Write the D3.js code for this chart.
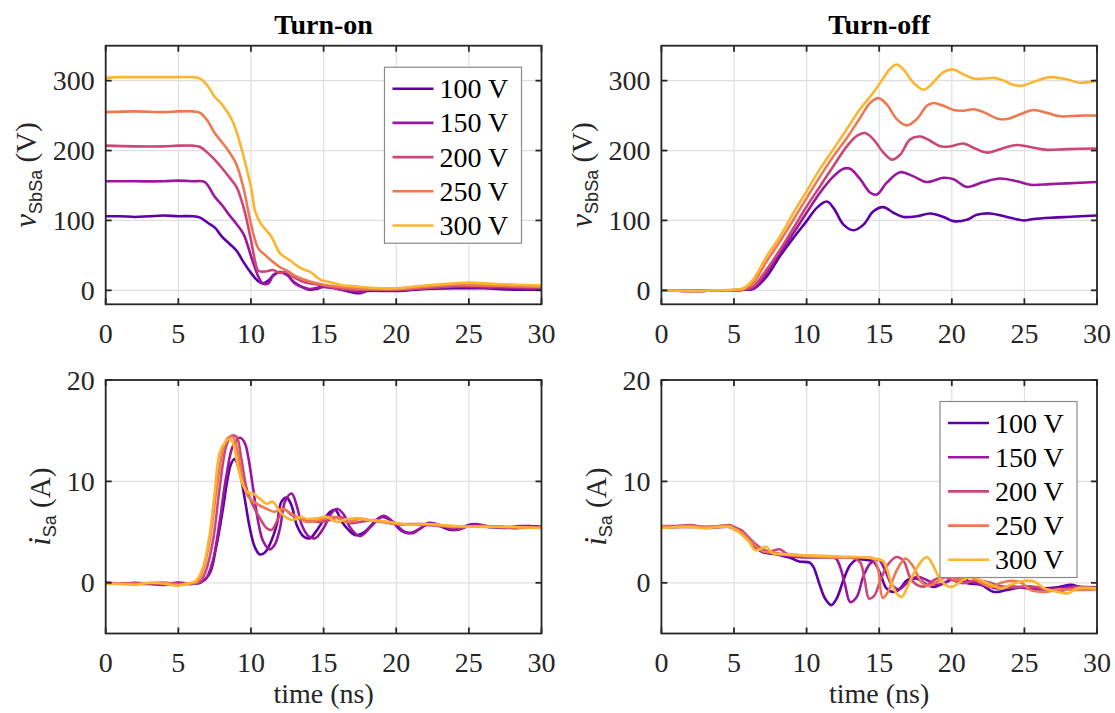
<!DOCTYPE html>
<html><head><meta charset="utf-8">
<script src="https://cdn.jsdelivr.net/npm/d3@7"></script>
<style>body{margin:0;background:#fff}svg{display:block}</style>
</head><body>
<script>
// ---------- data ----------
const seriesNames = ["100 V","150 V","200 V","250 V","300 V"];
const seriesColors = ["#5d01a6","#9c179e","#cc4778","#ed7953","#fdb42f"];
const timeTicks = [0,5,10,15,20,25,30];
const voltTicks = [0,100,200,300];
const currTicks = [0,10,20];

// Turn-on voltage v_SbSa (V), [time ns, value]
const onV100 = [[0,106],[1,106],[2,105],[3,106],[4,107],[5,106],[6,106],[6.5,104],[7,97],[7.5,90],[8,77],[8.5,67],[9,57],[9.5,40],[10,25],[10.5,13],[10.8,10],[11.2,14],[11.6,23],[12,26],[12.5,22],[13,11],[13.5,5],[14,1],[14.5,2],[15,5],[16,2],[17,-3],[17.5,-4],[18,-1],[20,-1],[22,2],[24,3],[26,3],[28,1],[30,1]];
const onV150 = [[0,156],[2,156],[4,156],[5,157],[6,156],[6.8,155],[7.5,134],[8,122],[8.5,108],[9,95],[9.5,80],[10,49],[10.5,20],[10.8,10],[11.2,10],[11.5,20],[12,26],[12.5,22],[13,10],[13.5,5],[14,2],[15,5],[16,2],[17,-1],[17.5,-3],[18,0],[20,0],[22,3],[24,5],[26,4],[28,3],[30,2]];
const onV200 = [[0,207],[2,206],[4,206],[5,207],[6,207],[6.5,205],[7,197],[7.5,187],[8,175],[8.5,162],[9,148],[9.5,118],[10,72],[10.3,40],[10.5,28],[11,27],[11.5,29],[12,25],[12.5,27],[13,18],[13.5,13],[14,10],[15,7],[16,3],[17,1],[18,1],[20,1],[22,3],[24,6],[26,6],[28,5],[30,4]];
const onV250 = [[0,255],[2,256],[4,255],[5,256],[6,256],[6.5,254],[7,243],[7.5,225],[8,212],[8.5,198],[9,180],[9.5,145],[10,95],[10.5,60],[11,50],[11.5,41],[12,33],[12.5,28],[13,21],[14,13],[15,8],[16,5],[17,3],[18,2],[20,2],[22,5],[24,8],[26,7],[28,6],[30,5]];
const onV300 = [[0,304],[1,305],[2,305],[3,305],[4,305],[5,305],[6,305],[6.5,303],[7,293],[7.5,277],[8,266],[8.69,244],[9.18,215],[9.67,177],[10.04,144],[10.29,113],[10.66,96],[11.4,77],[12,53],[12.6,44],[13.4,32],[14.1,26],[14.8,15],[15.6,11],[16.3,7],[17,6],[18,4],[19,3],[20,3],[22,7],[24,10],[25,11],[27,9],[30,7]];

// Turn-off voltage v_SbSa (V)
const offV100 = [[0,0],[2,-1],[4,0],[5,0],[5.65,1],[6.34,2],[7.26,20],[8.17,49],[9.09,75],[10,99],[10.7,118],[11.39,127],[11.85,118],[12.54,94],[13.23,86],[13.92,94],[14.6,113],[15.29,119],[15.98,111],[16.67,105],[17.59,106],[18.51,110],[19.43,105],[20.12,99],[21.03,101],[21.72,108],[22.64,110],[23.79,105],[24.94,100],[25.63,102],[27,104],[27.92,105],[30,107]];
const offV150 = [[0,0],[2,-1],[4,0],[5,0],[5.65,1],[6.34,3],[7.26,25],[8.17,54],[9.09,82],[10,111],[10.93,140],[11.85,163],[12.54,174],[13,174],[13.69,159],[14.37,140],[14.83,137],[15.52,154],[16.44,169],[17.36,163],[18.28,155],[19.43,161],[20.12,159],[21.03,148],[22.18,155],[23.33,160],[24.48,156],[25.4,151],[26.77,152],[27.92,153],[30,155]];
const offV200 = [[0,0],[2,-1],[4,0],[5,0],[5.65,1],[6.34,6],[7.26,30],[8.17,58],[9.09,89],[10,120],[10.93,149],[11.85,178],[12.77,206],[13.46,221],[14.03,225],[14.6,216],[15.29,197],[15.87,187],[16.44,194],[17.13,216],[17.82,220],[18.51,214],[19.2,206],[19.89,206],[20.8,210],[21.49,204],[22.41,197],[23.33,202],[24.48,208],[25.63,204],[26.54,201],[27.92,202],[30,203]];
const offV250 = [[0,0],[2,-1],[4,0],[5,0.5],[5.65,2],[6.34,11],[7.26,42],[8.17,70],[9.09,101],[10,132],[10.93,163],[11.85,192],[12.77,218],[13.69,247],[14.37,268],[14.95,275],[15.52,266],[16.21,245],[16.9,236],[17.59,245],[18.28,264],[18.74,268],[19.43,264],[20.12,258],[20.8,257],[21.49,259],[22.18,255],[23.1,246],[23.79,245],[24.71,252],[25.63,258],[26.54,254],[27.46,249],[28.84,250],[30,250]];
const offV300 = [[0,0],[2,-1],[4,0],[5,1],[5.65,3],[6.3,15],[7.26,49],[8.17,77],[9.1,111],[10,142],[10.9,173],[11.85,202],[12.75,230],[13.6,257],[14.6,283],[15.3,304],[15.75,317],[16.2,323],[16.67,316],[17.36,297],[18.05,287],[18.7,297],[19.4,312],[20.1,316],[20.8,309],[21.5,303],[22.2,303],[22.9,304],[23.6,300],[24.2,294],[24.9,293],[25.6,298],[26.8,305],[27.9,302],[28.8,297],[30,300]];

// Turn-on current i_Sa (A)
const onI100 = [[0,0],[2,-0.1],[4,-0.1],[5,0],[6,-0.1],[6.5,0],[7.15,0.9],[7.6,3.5],[8.07,7.3],[8.42,10.5],[8.65,11.8],[8.88,12.2],[9.23,10.9],[9.57,8.3],[9.92,5.4],[10.27,3.5],[10.6,2.8],[10.96,3.0],[11.3,3.8],[11.77,5.7],[12.1,8.0],[12.46,8.4],[12.8,7.6],[13.15,5.7],[13.6,4.6],[14.07,4.4],[14.5,5.1],[15,6.2],[15.46,7.0],[15.8,7.2],[16.27,6.0],[16.73,5.2],[17.2,4.7],[17.8,5.0],[18.5,6.0],[19,6.5],[19.6,6.2],[20.3,5.2],[20.9,4.9],[21.6,5.3],[22.2,5.9],[23,5.6],[23.8,5.2],[24.6,5.5],[25.3,5.8],[26.3,5.5],[27.3,5.5],[28.3,5.4],[29,5.6],[30,5.5]];
const onI150 = [[0,0],[1,-0.1],[2,0],[3,-0.1],[4,-0.2],[5,0],[6,-0.1],[6.45,0.1],[6.9,0.4],[7.38,2.2],[7.84,6.0],[8.3,10.5],[8.76,13.5],[9.23,14.3],[9.57,13.8],[9.8,12.5],[10.15,9.3],[10.5,6.0],[10.84,4.1],[11.3,3.3],[11.65,3.8],[12,5.4],[12.34,8.0],[12.8,8.8],[13.15,7.6],[13.5,5.7],[13.96,4.6],[14.42,4.4],[15,5.4],[15.46,6.7],[15.92,7.3],[16.4,6.7],[16.85,5.4],[17.5,4.6],[18.3,5.6],[19.1,6.6],[19.8,6.0],[20.5,5.1],[21.1,4.9],[21.8,5.5],[22.4,5.9],[23.2,5.6],[24.1,5.2],[24.8,5.5],[25.5,5.8],[26.5,5.5],[27.5,5.4],[28.5,5.6],[30,5.5]];
const onI200 = [[0,0],[2,-0.1],[4,0],[5,-0.1],[6,-0.1],[6.5,0.1],[6.9,1.2],[7.38,4.1],[7.84,9.3],[8.3,13.5],[8.65,14.5],[9,14.4],[9.34,12.2],[9.7,9.3],[10.15,7.6],[10.6,6.4],[11.07,5.4],[11.4,5.2],[11.77,6.0],[12.23,7.3],[12.7,6.8],[13.15,6.4],[13.85,6.2],[14.77,6.0],[15.46,6.2],[16.15,6.5],[16.85,5.9],[17.5,6.0],[18.5,6.2],[20,5.8],[22,5.7],[24,5.5],[26,5.6],[28,5.4],[30,5.5]];
const onI250 = [[0,-0.1],[2,-0.1],[4,0],[5,-0.2],[6,0],[6.3,0.1],[6.69,1.2],[7.15,4.1],[7.6,8.9],[8.07,13.1],[8.42,14.3],[8.76,14.4],[9.1,12.8],[9.46,9.9],[9.8,8.5],[10.38,7.8],[11.07,7.3],[11.65,7.0],[12.1,7.3],[12.57,7.0],[13.15,6.5],[13.85,6.0],[14.77,6.2],[15.7,6.5],[16.6,6.0],[17.5,6.3],[18.5,6.1],[20,5.8],[22,5.8],[24,5.5],[26,5.6],[28,5.5],[30,5.4]];
const onI300 = [[0,-0.1],[1,-0.1],[2,-0.2],[3,0],[4,-0.1],[5,-0.3],[5.5,-0.1],[5.9,0],[6.22,0.2],[6.69,1.5],[7.15,4.7],[7.5,8.9],[7.84,12.8],[8.19,13.8],[8.53,14.2],[8.76,13.8],[9.1,11.5],[9.46,9.6],[9.8,8.9],[10.15,8.8],[10.6,8.3],[11.07,7.8],[11.5,8.0],[12,7.0],[12.46,6.4],[12.9,6.2],[13.4,6.5],[13.85,6.3],[14.5,6.35],[15.2,6.5],[15.9,6.0],[16.6,6.3],[17.5,6.35],[18,6.2],[19,6.1],[20,5.9],[21,5.7],[22,5.8],[24,5.6],[26,5.5],[28,5.5],[30,5.4]];

// Turn-off current i_Sa (A)
const offI100 = [[0,5.5],[1,5.5],[2,5.5],[3,5.5],[4,5.5],[4.7,5.5],[5,5.3],[5.5,4.9],[6,4.2],[6.5,3.5],[7,3.0],[7.5,2.9],[8,2.8],[8.5,2.6],[9,2.4],[9.5,2.1],[10.2,2.0],[10.46,1.6],[10.9,-0.2],[11.27,-1.55],[11.7,-2.2],[12.07,-1.55],[12.53,0.25],[13,1.75],[13.45,2.3],[14.15,2.25],[14.6,2.1],[15.07,0.9],[15.5,-0.55],[15.99,-0.9],[16.45,-0.55],[16.9,0.25],[17.6,0.4],[18.3,-0.2],[18.75,-0.4],[19.45,-0.05],[20.1,0.45],[21.1,-0.05],[22,-0.2],[22.9,-0.9],[23.8,-0.7],[25,-0.4],[26.1,-0.55],[27.3,-0.45],[28.2,-0.2],[28.9,-0.45],[30,-0.45]];
const offI150 = [[0,5.5],[1,5.5],[2,5.6],[3,5.4],[4,5.5],[4.7,5.6],[5,5.4],[5.5,5.0],[6,4.3],[6.5,3.5],[7,3.1],[7.5,2.9],[8,2.8],[9,2.6],[10,2.5],[11,2.5],[12,2.4],[12.3,1.6],[12.65,-0.2],[13,-1.9],[13.45,-1.4],[13.9,0.6],[14.38,1.9],[14.95,2.3],[15.4,1.25],[15.88,-0.2],[16.34,-0.65],[16.9,-0.05],[17.6,0.6],[18.3,0.25],[19,-0.2],[19.7,0.1],[20.4,0.6],[21.3,0.1],[22.2,-0.2],[23.1,-0.55],[24.05,-0.35],[25.2,-0.55],[26.1,-0.65],[27.5,-0.55],[28.4,-0.4],[30,-0.45]];
const offI200 = [[0,5.6],[1,5.6],[2,5.7],[3,5.5],[4,5.6],[4.7,5.7],[5,5.5],[5.5,5.2],[6,4.5],[6.5,3.8],[7,3.3],[7.5,3.1],[8.15,3.3],[8.6,2.9],[9.5,2.7],[10.5,2.6],[12,2.5],[13.3,2.4],[13.7,2.0],[14.0,0.3],[14.3,-1.55],[14.65,-1.3],[15.1,0.3],[15.6,1.8],[16.2,2.55],[16.7,2.1],[17.1,0.6],[17.6,-0.2],[18.2,-0.35],[18.75,0.25],[19.45,0.6],[20.1,0.25],[20.8,-0.05],[21.5,0.2],[22.4,0.1],[23.4,-0.35],[24.3,-0.45],[25.4,-0.35],[26.6,-0.65],[27.5,-0.8],[28.4,-0.45],[30,-0.55]];
const offI250 = [[0,5.6],[1,5.5],[2,5.6],[3,5.5],[4,5.6],[4.7,5.6],[5,5.4],[5.5,5.0],[6,4.3],[6.5,3.6],[7,3.1],[7.5,3.0],[8,2.9],[9,2.7],[10,2.6],[12,2.5],[14,2.5],[14.6,2.4],[14.9,1.5],[15.25,-1.5],[15.6,-0.9],[16.2,1.2],[16.8,2.4],[17.3,1.7],[17.9,0.1],[18.4,-0.3],[19,0.1],[19.7,0.6],[20.4,0.3],[21.2,0.6],[22,0],[22.7,-0.4],[23.4,0],[24.1,0.2],[24.8,0],[25.4,-0.7],[26.4,-0.9],[27.3,-0.65],[28.4,-0.7],[30,-0.65]];
const offI300 = [[0,5.4],[1,5.5],[2,5.5],[3,5.4],[4,5.5],[4.7,5.5],[5,5.3],[5.5,4.8],[6,4.1],[6.5,3.2],[7.2,3.55],[7.7,2.9],[8.85,2.8],[10,2.7],[12.3,2.6],[14.6,2.4],[15.3,2.1],[15.76,0.3],[16.2,-1.05],[16.55,-1.4],[16.9,-0.55],[17.37,0.9],[17.95,2.2],[18.3,2.55],[18.64,1.9],[19.1,0.6],[19.56,-0.2],[20,-0.4],[20.6,0.1],[21.3,0.6],[22,0.25],[22.7,-0.2],[23.4,-0.55],[24.05,-0.2],[25,0.2],[25.7,0.1],[26.36,-0.55],[27.3,-0.9],[28,-1.05],[28.66,-0.55],[30,-0.55]];

// ---------- drawing ----------
const serif = "Liberation Serif, Times New Roman, serif";
const sans = "Liberation Sans, Arial, sans-serif";
const svg = d3.select("body").append("svg").attr("width",1115).attr("height",713);

const cols = [{x0:105.7,x1:541.5},{x0:661.4,x1:1097}];
const rows = [{y0:45.7,y1:304.3},{y0:380,y1:633.5}];

const panels = [
  {c:0,r:0,dom:[-20,350],ticks:voltTicks,data:[onV100,onV150,onV200,onV250,onV300],legend:true,title:"Turn-on",lab:["v","SbSa","(V)"],labX:36},
  {c:1,r:0,dom:[-20,350],ticks:voltTicks,data:[offV100,offV150,offV200,offV250,offV300],legend:false,title:"Turn-off",lab:["v","SbSa","(V)"],labX:36},
  {c:0,r:1,dom:[-5,20],ticks:currTicks,data:[onI100,onI150,onI200,onI250,onI300],legend:false,lab:["i","Sa","(A)"],labX:50},
  {c:1,r:1,dom:[-5,20],ticks:currTicks,data:[offI100,offI150,offI200,offI250,offI300],legend:true,lab:["i","Sa","(A)"],labX:50}
];

const FS = 28;
panels.forEach((p,k)=>{
  const {x0,x1} = cols[p.c], {y0,y1} = rows[p.r];
  const x = d3.scaleLinear().domain([0,30]).range([x0,x1]);
  const y = d3.scaleLinear().domain(p.dom).range([y1,y0]);
  const g = svg.append("g");
  const cid = "clip"+k;
  svg.append("clipPath").attr("id",cid).append("rect").attr("x",x0).attr("y",y0).attr("width",x1-x0).attr("height",y1-y0);

  // grid
  g.selectAll(".gx").data(timeTicks.filter(t=>t>0&&t<30)).join("line")
    .attr("x1",d=>x(d)).attr("x2",d=>x(d)).attr("y1",y0).attr("y2",y1)
    .attr("stroke","#dfdfdf").attr("stroke-width",1.2);
  g.selectAll(".gy").data(p.ticks.filter(t=>t>p.dom[0]&&t<p.dom[1])).join("line")
    .attr("x1",x0).attr("x2",x1).attr("y1",d=>y(d)).attr("y2",d=>y(d))
    .attr("stroke","#dfdfdf").attr("stroke-width",1.2);

  // lines
  const line = d3.line().x(d=>x(d[0])).y(d=>y(d[1])).curve(d3.curveCatmullRom.alpha(0.5));
  const lg = g.append("g").attr("clip-path",`url(#${cid})`);
  p.data.forEach((s,i)=>{
    lg.append("path").attr("d",line(s)).attr("fill","none")
      .attr("stroke",seriesColors[i]).attr("stroke-width",2.6).attr("stroke-linejoin","round");
  });

  // box
  g.append("rect").attr("x",x0).attr("y",y0).attr("width",x1-x0).attr("height",y1-y0)
    .attr("fill","none").attr("stroke","#262626").attr("stroke-width",1.8);
  // ticks inside
  const tl = 6;
  timeTicks.forEach(t=>{
    g.append("line").attr("x1",x(t)).attr("x2",x(t)).attr("y1",y1).attr("y2",y1-tl).attr("stroke","#262626").attr("stroke-width",1.8);
    g.append("line").attr("x1",x(t)).attr("x2",x(t)).attr("y1",y0).attr("y2",y0+tl).attr("stroke","#262626").attr("stroke-width",1.8);
  });
  p.ticks.forEach(t=>{
    g.append("line").attr("x1",x0).attr("x2",x0+tl).attr("y1",y(t)).attr("y2",y(t)).attr("stroke","#262626").attr("stroke-width",1.8);
    g.append("line").attr("x1",x1).attr("x2",x1-tl).attr("y1",y(t)).attr("y2",y(t)).attr("stroke","#262626").attr("stroke-width",1.8);
  });
  // tick labels
  g.selectAll(".xl").data(timeTicks).join("text")
    .attr("x",d=>x(d)).attr("y",y1+38.5).attr("text-anchor","middle")
    .style("font-family",serif).style("font-size",FS+"px").attr("fill","#262626").text(d=>d);
  g.selectAll(".yl").data(p.ticks).join("text")
    .attr("x",x0-11).attr("y",d=>y(d)+9.5).attr("text-anchor","end")
    .style("font-family",serif).style("font-size",FS+"px").attr("fill","#262626").text(d=>d);

  // title
  if(p.title){
    g.append("text").attr("x",(x0+x1)/2).attr("y",34).attr("text-anchor","middle")
      .style("font-family",serif).style("font-weight","bold").style("font-size",FS+"px").attr("fill","#000").text(p.title);
  }
  // x label for bottom row
  if(p.r===1){
    g.append("text").attr("x",(x0+x1)/2).attr("y",703).attr("text-anchor","middle")
      .style("font-family",serif).style("font-size",FS+"px").attr("fill","#262626").text("time (ns)");
  }
  // y label
  const lx = (p.c===0?0:555.7) + p.labX, ly = (y0+y1)/2;
  const yt = g.append("text").attr("transform",`translate(${lx},${ly}) rotate(-90)`)
    .attr("text-anchor","middle").attr("fill","#262626");
  yt.append("tspan").style("font-family",serif).style("font-style","italic").style("font-size","31px").text(p.lab[0]);
  yt.append("tspan").style("font-family",sans).style("font-size","18px").attr("dy",6).text(p.lab[1]);
  yt.append("tspan").style("font-family",serif).style("font-size","29px").attr("dy",-6).text("\u00A0"+p.lab[2]);

  // legend
  if(p.legend){
    const bw=137, bh=176, bx=x1-20-bw, by=y0+21.5;
    const lgd = g.append("g");
    lgd.append("rect").attr("x",bx).attr("y",by).attr("width",bw).attr("height",bh)
      .attr("fill","#fff").attr("stroke","#8a8a8a").attr("stroke-width",1.2);
    seriesNames.forEach((n,i)=>{
      const cy = by+21.5+i*34.2;
      lgd.append("line").attr("x1",bx+8).attr("x2",bx+49).attr("y1",cy).attr("y2",cy)
        .attr("stroke",seriesColors[i]).attr("stroke-width",2.6);
      lgd.append("text").attr("x",bx+55).attr("y",cy+9.5).style("font-family",serif)
        .style("font-size",FS+"px").attr("fill","#000").text(n);
    });
  }
});
</script>
</body></html>
